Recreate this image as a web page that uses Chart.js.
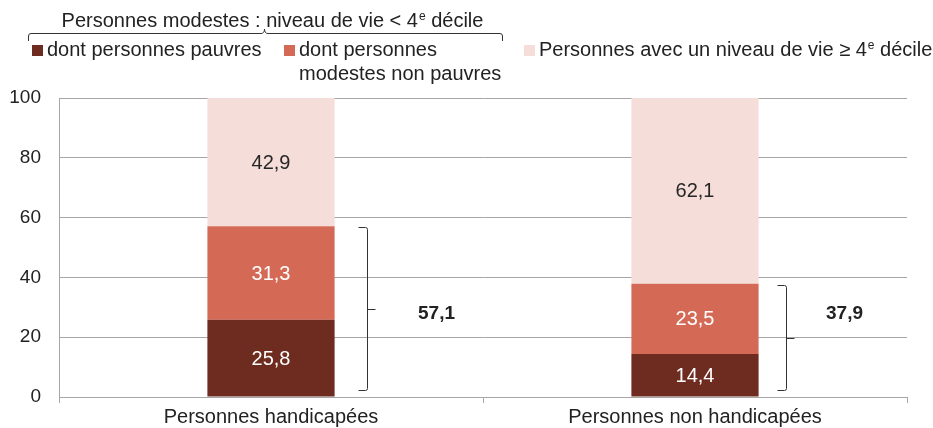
<!DOCTYPE html>
<html>
<head>
<meta charset="utf-8">
<script src="https://cdn.jsdelivr.net/npm/chart.js@4.4.0/dist/chart.umd.min.js"></script>
<style>
body{margin:0;background:#fff}
#wrap{width:933px;height:428px}
</style>
</head>
<body>
<div id="wrap"><canvas id="myChart" width="933" height="428"></canvas></div>
<script>
const categories=['Personnes handicapées','Personnes non handicapées']
const seriesNames=['dont personnes pauvres','dont personnes modestes non pauvres','Personnes avec un niveau de vie ≥ 4e décile']
const pauvres=[25.8,14.4]
const modestesNonPauvres=[31.3,23.5]
const aisees=[42.9,62.1]
const yTicks=[0,20,40,60,80,100]

const FONT='"Liberation Sans", Arial, sans-serif'
const colors=['#6e2b1f','#d46a55','#f5ddd9']
const labelColors=['#ffffff','#ffffff','#262626']

function fmt(v){return v.toFixed(1).replace('.',',')}

// text with superscript "e"
function drawParts(ctx,parts,x,y,align){
  ctx.save()
  ctx.textBaseline='alphabetic'
  ctx.textAlign='left'
  let w=0
  parts.forEach(p=>{
    ctx.font=(p.sup?'12px ':'20px ')+FONT
    w+=ctx.measureText(p.t).width
  })
  let cx=align=='center'?x-w/2:x
  parts.forEach(p=>{
    ctx.font=(p.sup?'12px ':'20px ')+FONT
    ctx.fillText(p.t,cx+(p.sup?1:0),p.sup?y-7:y)
    cx+=ctx.measureText(p.t).width+(p.sup?1:0)
  })
  ctx.restore()
}

const extras={
  id:'extras',
  afterDatasetsDraw(chart){
    const ctx=chart.ctx
    ctx.save()
    ctx.font='20px '+FONT
    ctx.textAlign='center'
    ctx.textBaseline='middle'
    chart.data.datasets.forEach((ds,i)=>{
      chart.getDatasetMeta(i).data.forEach((bar,j)=>{
        ctx.fillStyle=labelColors[i]
        ctx.fillText(fmt(ds.data[j]),bar.x,(bar.y+bar.base)/2+1)
      })
    })
    ctx.restore()
  },
  afterDraw(chart){
    const ctx=chart.ctx
    const y=chart.scales.y
    ctx.save()
    ctx.fillStyle='#222'
    ctx.strokeStyle='#333'
    ctx.lineWidth=1

    // braces next to bars, around pauvres + modestes
    const braceGap=[32,27]
    const totalGap=[69,58]
    chart.getDatasetMeta(0).data.forEach((bar,j)=>{
      const total=pauvres[j]+modestesNonPauvres[j]
      const bx=Math.round(bar.x+bar.width/2+braceGap[j])+0.5
      const top=Math.round(y.getPixelForValue(total))+1.5
      const bot=Math.round(y.getPixelForValue(0))-6.5
      const mid=Math.round((top+bot)/2)+0.5
      ctx.beginPath()
      ctx.moveTo(bx-9,top)
      ctx.lineTo(bx-2,top)
      ctx.quadraticCurveTo(bx,top,bx,top+2)
      ctx.lineTo(bx,bot-2)
      ctx.quadraticCurveTo(bx,bot,bx-2,bot)
      ctx.lineTo(bx-9,bot)
      ctx.moveTo(bx,mid)
      ctx.lineTo(bx+8,mid)
      ctx.stroke()
      ctx.font='bold 19px '+FONT
      ctx.textAlign='center'
      ctx.textBaseline='middle'
      ctx.fillText(fmt(total),bx+totalGap[j],y.getPixelForValue(27.8))
    })

    // legend
    drawParts(ctx,[{t:'Personnes modestes : niveau de vie < 4'},{t:'e',sup:true},{t:' décile'}],272,27,'center')
    ctx.beginPath()
    ctx.moveTo(28.5,41)
    ctx.lineTo(28.5,36)
    ctx.quadraticCurveTo(28.5,33.5,31,33.5)
    ctx.lineTo(261,33.5)
    ctx.quadraticCurveTo(264.5,33.5,264.5,29)
    ctx.quadraticCurveTo(264.5,33.5,268,33.5)
    ctx.lineTo(500,33.5)
    ctx.quadraticCurveTo(502.5,33.5,502.5,36)
    ctx.lineTo(502.5,41)
    ctx.stroke()

    const sq=[[32,45],[284,45],[524,45]]
    sq.forEach((s,i)=>{
      ctx.fillStyle=colors[i]
      ctx.fillRect(s[0],s[1],11,11)
    })
    ctx.fillStyle='#222'
    drawParts(ctx,[{t:'dont personnes pauvres'}],47,56)
    drawParts(ctx,[{t:'dont personnes'}],299,56)
    drawParts(ctx,[{t:'modestes non pauvres'}],299,80)
    drawParts(ctx,[{t:'Personnes avec un niveau de vie ≥ 4'},{t:'e',sup:true},{t:' décile'}],539,56)
    ctx.restore()
  }
}

new Chart(document.getElementById('myChart'),{
  type:'bar',
  data:{
    labels:categories,
    datasets:[
      {label:seriesNames[0],data:pauvres,backgroundColor:colors[0]},
      {label:seriesNames[1],data:modestesNonPauvres,backgroundColor:colors[1]},
      {label:seriesNames[2],data:aisees,backgroundColor:colors[2]}
    ]
  },
  options:{
    responsive:false,
    animation:false,
    devicePixelRatio:1,
    layout:{padding:{top:98,right:26,left:0,bottom:0}},
    datasets:{bar:{barPercentage:1,categoryPercentage:0.3,borderWidth:0}},
    plugins:{legend:{display:false},tooltip:{enabled:false}},
    scales:{
      x:{
        stacked:true,
        grid:{drawOnChartArea:false,drawTicks:true,tickLength:6,color:'#a6a6a6',offset:true},
        border:{color:'#a6a6a6'},
        ticks:{color:'#222',font:{family:FONT,size:20},padding:2},
        afterFit(s){s.height=31}
      },
      y:{
        stacked:true,
        min:0,max:100,
        afterBuildTicks(s){s.ticks=yTicks.map(v=>({value:v}))},
        grid:{drawTicks:false,color:'#a6a6a6'},
        border:{color:'#a6a6a6'},
        ticks:{color:'#222',font:{family:FONT,size:19},padding:18},
        afterFit(s){s.width=59}
      }
    }
  },
  plugins:[extras]
})
</script>
</body>
</html>
